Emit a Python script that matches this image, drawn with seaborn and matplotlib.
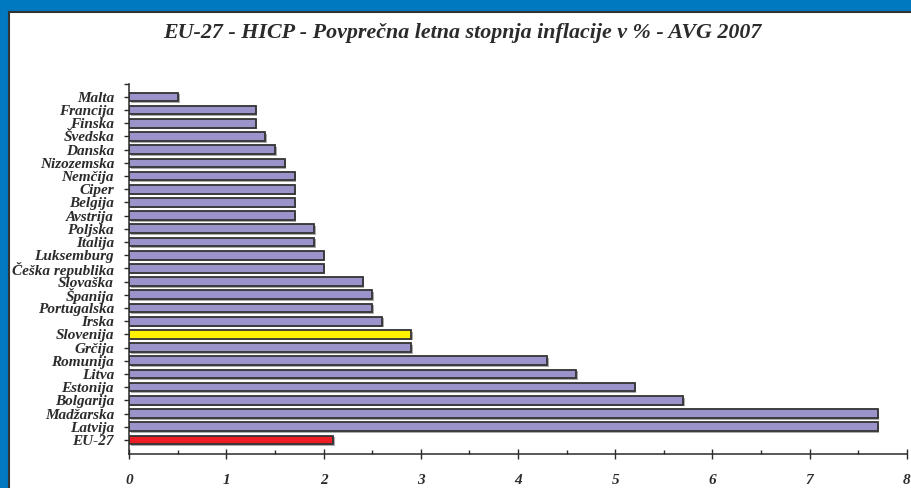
import matplotlib
matplotlib.use("Agg")
import matplotlib.pyplot as plt
import matplotlib.patheffects as pe
from matplotlib.patches import Rectangle
from matplotlib.ticker import MultipleLocator, FixedLocator
import seaborn as sns

sns.set_theme(style="ticks")

# podatki (od zgoraj navzdol)
countries = ["Malta", "Francija", "Finska", "Švedska", "Danska", "Nizozemska",
             "Nemčija", "Ciper", "Belgija", "Avstrija", "Poljska", "Italija",
             "Luksemburg", "Češka republika", "Slovaška", "Španija", "Portugalska",
             "Irska", "Slovenija", "Grčija", "Romunija", "Litva", "Estonija",
             "Bolgarija", "Madžarska", "Latvija", "EU-27"]
values = [0.5, 1.3, 1.3, 1.4, 1.5, 1.6,
          1.7, 1.7, 1.7, 1.7, 1.9, 1.9,
          2.0, 2.0, 2.4, 2.5, 2.5,
          2.6, 2.9, 2.9, 4.3, 4.6, 5.2,
          5.7, 7.7, 7.7, 2.1]
xticks = [0, 1, 2, 3, 4, 5, 6, 7, 8]
title = "EU-27 - HICP - Povprečna letna stopnja inflacije v % - AVG 2007"

base_col = "#9b94ca"
colors = []
for c in countries:
    if c == "Slovenija":
        colors.append("#fff200")
    elif c == "EU-27":
        colors.append("#ee1c25")
    else:
        colors.append(base_col)

serif_bi = dict(family="Liberation Serif", weight="bold", style="italic")
dark = "#2b2b2b"

fig = plt.figure(figsize=(9.11, 4.88), dpi=100)
fig.patch.set_facecolor("#0079c1")
# bel okvir
frame = Rectangle((9 / 911, -0.05), 1.2, 1.05 - 12 / 488,
                  transform=fig.transFigure, facecolor="white",
                  edgecolor="#333333", linewidth=1.5, zorder=-10)
fig.patches.append(frame)

ax = fig.add_axes([129.3 / 911, 34 / 488, (906.8 - 129.3) / 911, 370 / 488])
ax.set_facecolor("none")
ax.set_zorder(5)

sns.barplot(x=values, y=countries, hue=countries, palette=colors, legend=False,
            width=0.66, saturation=1, edgecolor="#333333", linewidth=1.3, ax=ax)

for p in ax.patches:
    p.set_path_effects([pe.SimplePatchShadow(offset=(1.2, -1.2), shadow_rgbFace="#888888", alpha=0.7),
                        pe.Normal()])

n = len(countries)
ax.set_ylim(n - 1 + 1.07, -0.98)
ax.set_xlim(0, 8)
ax.set_xticks(xticks)
ax.xaxis.set_minor_locator(MultipleLocator(0.5))
ax.yaxis.set_minor_locator(FixedLocator([-0.98]))
ax.set_xlabel("")
ax.set_ylabel("")
ax.grid(False)

for s in ["top", "right"]:
    ax.spines[s].set_visible(False)
for s in ["left", "bottom"]:
    ax.spines[s].set_color(dark)
    ax.spines[s].set_linewidth(1.1)

ax.tick_params(axis="x", which="major", direction="inout", length=7.5, width=1.0,
               color=dark, pad=10.5)
ax.tick_params(axis="x", which="minor", direction="in", length=3, width=1.0, color=dark)
ax.tick_params(axis="y", which="major", direction="out", length=3.5, width=1.0,
               color=dark, pad=7.5)
ax.tick_params(axis="y", which="minor", direction="out", length=3.5, width=1.0, color=dark)

ax.set_yticks(range(n))
ax.set_yticklabels(countries, fontsize=11, color=dark, **serif_bi)
ax.set_xticklabels([str(t) for t in xticks], fontsize=11, color=dark, **serif_bi)

fig.text(0.507, 1 - 33 / 488, title, ha="center", va="center", fontsize=15.8,
         color=dark, **serif_bi)

fig.savefig("out.png", dpi=100, facecolor=fig.get_facecolor())
